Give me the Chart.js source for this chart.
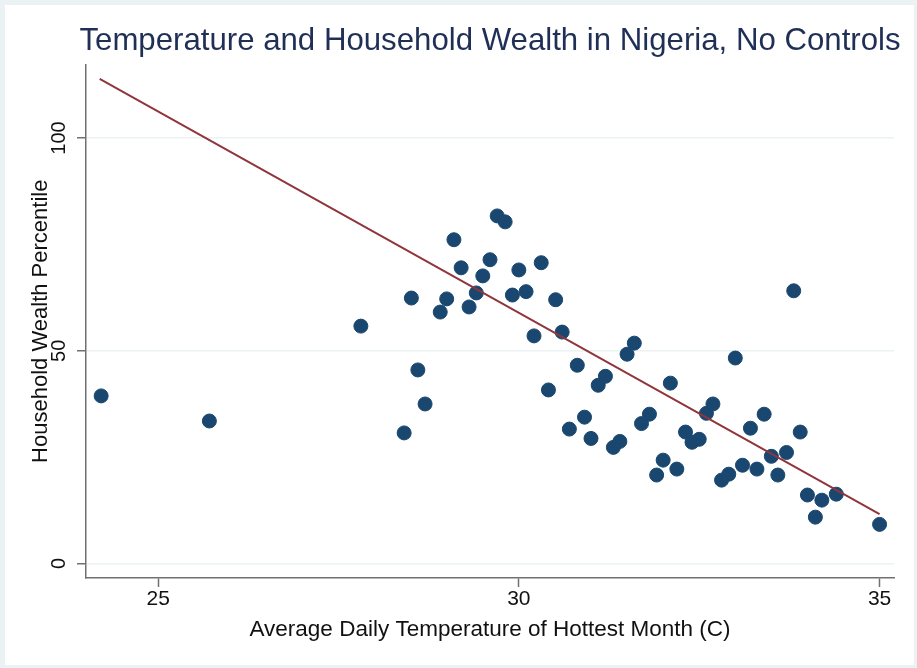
<!DOCTYPE html>
<html>
<head>
<meta charset="utf-8">
<script src="https://cdn.jsdelivr.net/npm/chart.js@4"></script>
<style>
  html, body { margin: 0; padding: 0; background: #eaf2f3; }
  #wrap { position: absolute; left: 5px; top: 5px; width: 909px; height: 660px; background: #fff; }
</style>
</head>
<body>
<div id="wrap"><canvas id="chart" width="909" height="660"></canvas></div>
<script>
// values
const tempC = [24.21, 25.71, 27.81, 28.41, 28.51, 28.60, 28.70, 28.91, 29.00, 29.10,
  29.20, 29.31, 29.41, 29.50, 29.60, 29.70, 29.81, 29.91, 30.00, 30.10,
  30.21, 30.31, 30.41, 30.51, 30.60, 30.70, 30.81, 30.91, 31.00, 31.10,
  31.20, 31.31, 31.40, 31.50, 31.60, 31.70, 31.81, 31.91, 32.00, 32.10,
  32.19, 32.31, 32.40, 32.50, 32.60, 32.69, 32.81, 32.91, 33.00, 33.10,
  33.21, 33.30, 33.40, 33.50, 33.59, 33.71, 33.81, 33.90, 34.00, 34.11,
  34.20, 34.40, 35.00];
const wealthPct = [39.4, 33.5, 55.8, 30.7, 62.4, 45.5, 37.5, 59.1, 62.2, 76.1,
  69.5, 60.3, 63.6, 67.6, 71.4, 81.7, 80.3, 63.1, 69.0, 63.9,
  53.5, 70.7, 40.8, 62.0, 54.4, 31.6, 46.6, 34.4, 29.4, 41.9,
  44.0, 27.3, 28.7, 49.2, 51.8, 32.9, 35.1, 20.8, 24.3, 42.4,
  22.2, 30.9, 28.5, 29.2, 35.3, 37.5, 19.6, 21.0, 48.3, 23.1,
  31.8, 22.2, 35.1, 25.2, 20.8, 26.1, 64.1, 30.9, 16.1, 10.9,
  14.9, 16.3, 9.2];

// fitted line end points
const fitX = [24.19, 35.0];
const fitY = [113.9, 11.6];

const xTicks = [25, 30, 35];
const yTicks = [0, 50, 100];

const FONT = "'Liberation Sans', Arial, Helvetica, sans-serif";
const axisGray = '#707070';

const scatterPts = tempC.map((t, i) => ({ x: t, y: wealthPct[i] }));
const fitPts = fitX.map((t, i) => ({ x: t, y: fitY[i] }));

// title is wider than the plot area but stays centred on it
const widenTitle = {
    id: 'widenTitle',
    afterLayout(chart) {
        const t = chart.titleBlock;
        if (!t) return;
        const mid = (chart.chartArea.left + chart.chartArea.right) / 2;
        t.left = mid - 440;
        t.right = mid + 440;
        t.width = 880;
    }
};

new Chart(document.getElementById('chart'), {
    type: 'scatter',
    data: {
        datasets: [
            {
                type: 'line',
                data: fitPts,
                borderColor: '#90353b',
                borderWidth: 2,
                pointRadius: 0,
                fill: false
            },
            {
                data: scatterPts,
                backgroundColor: '#1a476f',
                borderColor: '#1a476f',
                borderWidth: 1,
                pointRadius: 7
            }
        ]
    },
    plugins: [widenTitle],
    options: {
        responsive: false,
        animation: false,
        layout: { padding: { left: 0, right: 20, top: 0, bottom: 0 } },
        plugins: {
            legend: { display: false },
            tooltip: { enabled: false },
            title: {
                display: true,
                text: 'Temperature and Household Wealth in Nigeria, No Controls',
                fullSize: false,
                color: '#1f2f55',
                font: { family: FONT, size: 31.2, weight: 'normal', lineHeight: 1.2 },
                padding: { top: 18, bottom: 4 }
            }
        },
        scales: {
            x: {
                type: 'linear',
                min: 24.0,
                max: 35.2,
                afterBuildTicks: s => { s.ticks = xTicks.map(v => ({ value: v })); },
                afterFit: s => { s.height = 87; },
                grid: { drawOnChartArea: false, drawTicks: true, tickLength: 9, tickColor: axisGray, tickWidth: 1.5 },
                border: { color: axisGray, width: 1.5 },
                ticks: { color: '#111', font: { family: FONT, size: 21 }, padding: 0, maxRotation: 0 },
                title: {
                    display: true,
                    text: 'Average Daily Temperature of Hottest Month (C)',
                    color: '#111',
                    font: { family: FONT, size: 22.5, lineHeight: 1.2 },
                    padding: { top: 0, bottom: 22 }
                }
            },
            y: {
                type: 'linear',
                min: -3.4,
                max: 117.3,
                afterBuildTicks: s => { s.ticks = yTicks.map(v => ({ value: v })); },
                afterFit: s => { s.width = 81; },
                grid: { color: '#eaf2f3', lineWidth: 1.5, tickLength: 9, tickColor: axisGray, tickWidth: 1.5 },
                border: { color: axisGray, width: 1.5 },
                ticks: { color: '#111', font: { family: FONT, size: 20 }, padding: 1, minRotation: 90, maxRotation: 90, crossAlign: 'center' },
                title: {
                    display: true,
                    text: 'Household Wealth Percentile',
                    color: '#111',
                    font: { family: FONT, size: 22, lineHeight: 1.2 },
                    padding: { top: 23, bottom: 0 }
                }
            }
        }
    }
});
</script>
</body>
</html>
